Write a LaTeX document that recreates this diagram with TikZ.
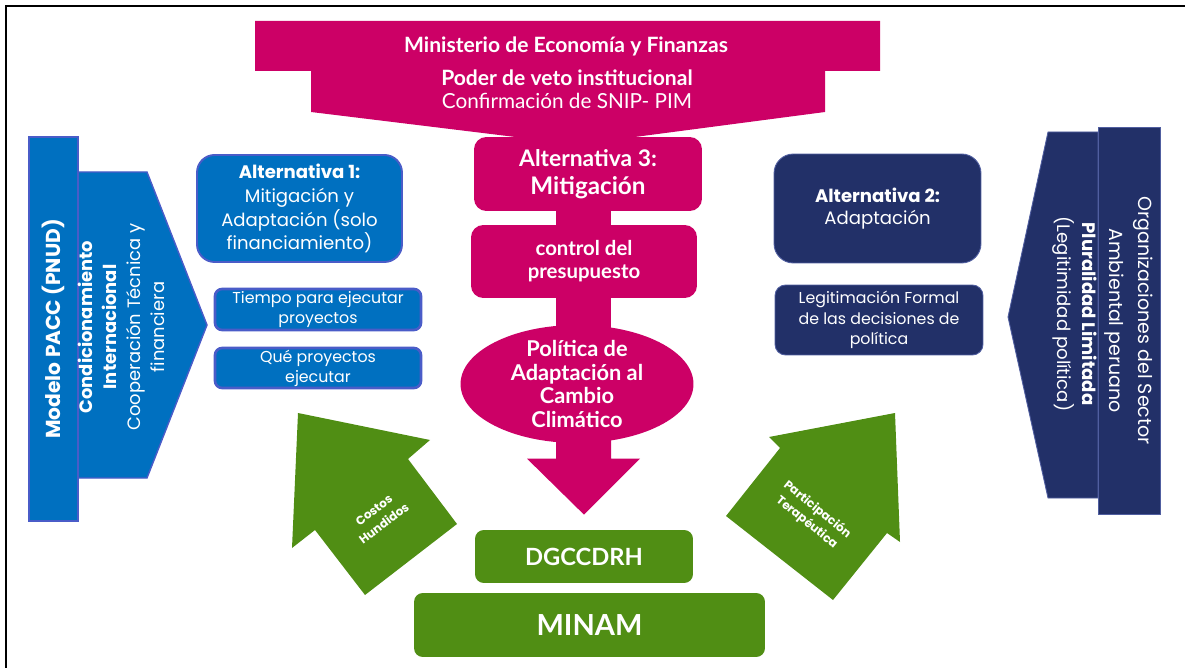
\documentclass[tikz,border=0pt]{standalone}
\usepackage{fontspec}
\setmainfont{Poppins}
\newfontfamily\twfont{Lato}
\usetikzlibrary{shapes.geometric,backgrounds,calc}
\definecolor{pblue}{RGB}{0,112,192}
\definecolor{blueline}{RGB}{74,92,200}
\definecolor{pmag}{RGB}{204,0,102}
\definecolor{pnavy}{RGB}{34,48,104}
\definecolor{navyline}{RGB}{80,94,160}
\definecolor{pgreen}{RGB}{80,142,20}
\newcommand{\fsz}[2]{\fontsize{#1}{#2}\selectfont}
\tikzset{
  pbox/.style={align=center, text=white, inner sep=1pt},
  bluebox/.style={pbox, fill=pblue, draw=blueline, line width=1.1pt},
  navybox/.style={pbox, fill=pnavy, draw=navyline, line width=0.5pt},
  magbox/.style={pbox, fill=pmag, rounded corners=7pt, font=\twfont\bfseries},
  greenbox/.style={pbox, fill=pgreen, rounded corners=5pt, font=\twfont\bfseries},
  wtext/.style={align=center, text=white, inner sep=0pt},
}
\begin{document}
\begin{tikzpicture}[x=0.02cm, y=-0.02cm]
\useasboundingbox (0,0) rectangle (1185,668);
\draw[line width=1.2pt] (6,668) -- (6,6) -- (1185,6);
% Ministerio
\fill[pmag] (255,21) -- (880,21) -- (880,71) -- (825,71) -- (825,112) -- (612,140) -- (540,140) -- (311,112) -- (311,71) -- (255,71) -- cycle;
\node[wtext, font=\twfont\bfseries\fsz{12}{13}] (mef) at (566,46) {Ministerio de Economía y Finanzas};
\node[wtext, font=\twfont\bfseries\fsz{12}{13}] (veto) at (567,78) {Poder de veto institucional};
\node[wtext, font=\twfont\fsz{11.8}{13}] (snip) at (567,101) {Confirmación de SNIP- PIM};
% izquierda
\filldraw[fill=pblue, draw=blueline, line width=0.8pt] (78,172) -- (147,172) -- (207,325) -- (147,478) -- (78,478) -- cycle;
\node[bluebox, line width=0.8pt, rotate=90, minimum width=7.68cm, minimum height=0.98cm, font=\bfseries\fsz{11.5}{13}] (pacc) at (53.5,329) {Modelo PACC (PNUD)};
\node[wtext, rotate=90, font=\fsz{10.2}{13.6}] (cond) at (121.5,327) {\textbf{Condicionamiento}\\\textbf{Internacional}\\Cooperación Técnica y\\financiera};
% derecha
\filldraw[fill=pnavy, draw=navyline, line width=0.5pt] (1098,132) -- (1048,132) -- (1008,317) -- (1048,498) -- (1098,498) -- cycle;
\node[navybox, rotate=-90, minimum width=7.74cm, minimum height=1.24cm, font=\fsz{10.8}{16.4}] (org) at (1129,320.5) {Organizaciones del Sector\\Ambiental peruano};
\node[wtext, rotate=-90, font=\fsz{10.3}{14.2}] (plur) at (1074.5,314) {\textbf{Pluralidad Limitada}\\(Legitimidad política)};
% alternativas
\node[bluebox, rounded corners=10pt, minimum width=4.1cm, minimum height=2.14cm, font=\fsz{10.3}{13.6}] (alt1) at (299.5,208.5) {\textbf{Alternativa 1:}\\Mitigación y\\Adaptación (solo\\financiamiento)};
\node[bluebox, line width=1.5pt, rounded corners=4pt, minimum width=4.12cm, minimum height=0.82cm, font=\fsz{9}{11.3}] (tiempo) at (318,309.5) {Tiempo para ejecutar\\proyectos};
\node[bluebox, line width=1.5pt, rounded corners=4pt, minimum width=4.12cm, minimum height=0.8cm, font=\fsz{9}{11.3}] (que) at (318,368) {Qué proyectos\\ejecutar};
\node[navybox, rounded corners=11pt, minimum width=4.14cm, minimum height=2.18cm, font=\fsz{10.3}{12.5}] (alt2) at (877.5,208.5) {\textbf{Alternativa 2:}\\Adaptación};
\node[navybox, rounded corners=6pt, minimum width=4.16cm, minimum height=1.4cm, font=\fsz{9}{11.6}] (legit) at (879,320) {Legitimación Formal\\de las decisiones de\\política};
\node[magbox, minimum width=4.56cm, minimum height=1.48cm, font=\twfont\bfseries\fsz{13}{16}] (alt3) at (588,174) {Alternativa 3:\\{\fsz{13.8}{16}Mitigación}};
\node[magbox, minimum width=4.52cm, minimum height=1.46cm, font=\twfont\bfseries\fsz{11.6}{13.2}] (ctrl) at (584,261.5) {control del\\presupuesto};
\node[ellipse, fill=pmag, minimum width=4.66cm, minimum height=2.36cm] (pol) at (577,384) {};
\node[wtext, font=\twfont\bfseries\fsz{12.4}{13.6}] (poltext) at (pol.center) {Política de\\Adaptación al\\Cambio\\Climático};
\node[greenbox, minimum width=4.36cm, minimum height=1.06cm, font=\twfont\bfseries\fsz{13.5}{16}] (dg) at (584,556.5) {DGCCDRH};
\node[greenbox, minimum width=7.02cm, minimum height=1.28cm, font=\twfont\bfseries\fsz{16.5}{18}] (minam) at (589.5,625) {MINAM};
\coordinate (tip) at ($(dg.north)+(0,-15)$);
\begin{scope}[on background layer]
\fill[pmag] ($(ctrl.north)+(-28,2)$) rectangle ($(ctrl.north |- alt3.south)+(27,-2)$);
\fill[pmag] ($(ctrl.south)+(-28,-2)$) rectangle ($(ctrl.south |- pol.center)+(27,0)$);
\fill[pmag] ($(tip |- pol.center)+(-28,0)$) -- ($(tip)+(-28,-56)$) -- ($(tip)+(-57,-56)$) -- (tip) -- ($(tip)+(56,-56)$) -- ($(tip)+(27,-56)$) -- ($(tip |- pol.center)+(27,0)$) -- cycle;
\end{scope}
% flechas verdes
\fill[pgreen] (298,413) -- (430,440) -- (408,459) -- (457,524) -- (365,595) -- (315,530) -- (292,548) -- cycle;
\fill[pgreen] (895,413) -- (769,437) -- (780,448) -- (726,516) -- (833,600) -- (887,533) -- (900,542) -- cycle;
\node[wtext, rotate=37, font=\bfseries\fsz{6.8}{9.5}] (costos) at (379,517) {Costos\\Hundidos};
\node[wtext, rotate=-39, font=\bfseries\fsz{6.8}{9.5}] (terap) at (812,516) {Participación\\Terapéutica};
\end{tikzpicture}
\end{document}
